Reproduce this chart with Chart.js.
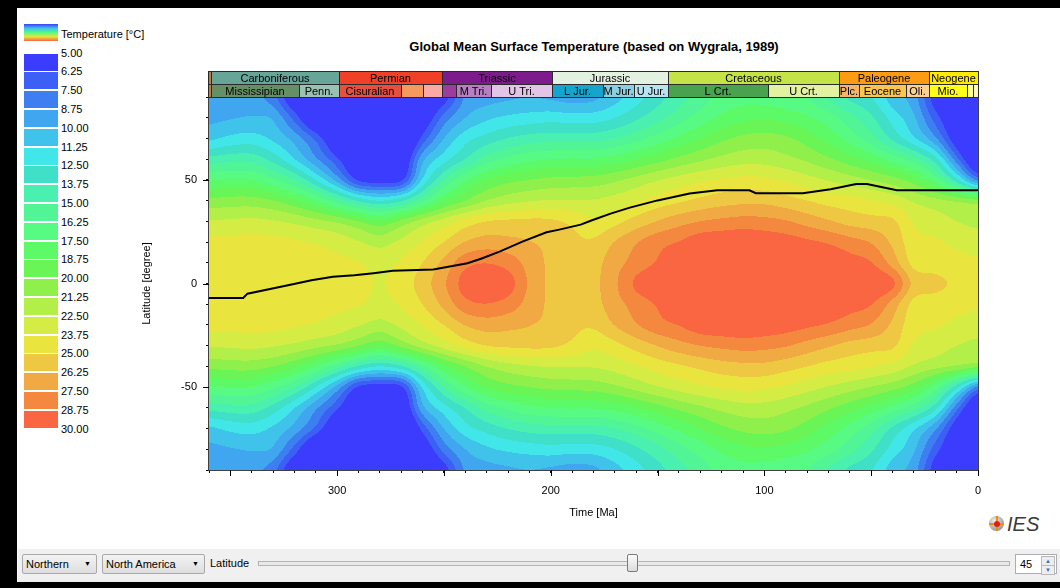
<!DOCTYPE html>
<html>
<head>
<meta charset="utf-8">
<script src="https://cdn.jsdelivr.net/npm/chart.js@4.4.1/dist/chart.umd.min.js"></script>
<style>
body { margin: 0; width: 1060px; height: 588px; overflow: hidden; background: #fff; position: relative;
       font-family: 'Liberation Sans', Arial, sans-serif; font-size: 11px; color: #000; }
.blk { position: absolute; background: #000; }
#legend div { position: absolute; }
.sw { left: 24px; width: 34px; height: 17px; }
.lb { left: 61px; height: 14px; line-height: 14px; }
#bar { position: absolute; left: 18px; top: 549px; width: 1042px; height: 33px; background: #f0f0f0; }
.combo { position: absolute; top: 554px; height: 20px; box-sizing: border-box; border: 1px solid #a9a9a9; border-radius: 2px;
         background: linear-gradient(#f3f3f3, #dedede); line-height: 18px; padding-left: 3px; }
.combo span { position: absolute; right: 5px; top: 0; font-size: 7px; }
#track { position: absolute; left: 258px; top: 561px; width: 750px; height: 3px; border: 1px solid #b5b5b5; background: #e9e9e9; }
#thumb { position: absolute; left: 627px; top: 554px; width: 11px; height: 18px; box-sizing: border-box; border: 1px solid #7a7a7a;
         border-radius: 2px; background: linear-gradient(#fafafa, #dcdcdc); }
#spin { position: absolute; left: 1015px; top: 554px; width: 42px; height: 20px; box-sizing: border-box; border: 1px solid #abadb3;
        background: #fff; line-height: 18px; padding-left: 4px; }
#spin i { position: absolute; right: 1px; width: 12px; height: 8px; border: 1px solid #b9b9b9; background: #eceef2;
          font-size: 6px; line-height: 8px; text-align: center; font-style: normal; color: #4a6da8; }
#logo { position: absolute; left: 988px; top: 512px; width: 60px; height: 24px; }
#globe { position: absolute; left: 1px; top: 4px; width: 15px; height: 15px; border-radius: 50%;
         background: radial-gradient(circle at 40% 35%, #f4f4f4, #9a9a9a 70%, #6f6f6f); }
#gh { position: absolute; left: 1px; top: 11px; width: 15px; height: 2px; background: #f08a10; }
#gv { position: absolute; left: 8px; top: 4px; width: 2px; height: 15px; background: #f08a10; }
#gc { position: absolute; left: 6px; top: 9px; width: 6px; height: 6px; border-radius: 50%; background: #e02010; }
#ies { position: absolute; left: 19px; top: 0; font-size: 20px; font-style: italic; color: #3a3a3a; line-height: 24px; }
#title { position: absolute; left: 209px; width: 770px; top: 39px; text-align: center; font-weight: bold; font-size: 13px; }
#grafica { position: absolute; left: 0; top: 0; }
</style>
</head>
<body>
<div class="blk" style="left:0;top:0;width:1060px;height:8px"></div>
<div class="blk" style="left:0;top:0;width:17px;height:588px"></div>
<div class="blk" style="left:0;top:582px;width:1060px;height:6px"></div>
<div id="legend"></div>
<div id="title">Global Mean Surface Temperature (based on Wygrala, 1989)</div>
<div id="bar"></div>
<div class="combo" style="left:22px;width:75px">Northern<span>&#9660;</span></div>
<div class="combo" style="left:102px;width:103px">North America<span>&#9660;</span></div>
<div style="position:absolute;left:210px;top:557px">Latitude</div>
<div id="track"></div>
<div id="thumb"></div>
<div id="spin">45<i style="top:1px">&#9650;</i><i style="top:10px">&#9660;</i></div>
<div id="logo"><div id="globe"></div><div id="gh"></div><div id="gv"></div><div id="gc"></div><div id="ies">IES</div></div>
<canvas id="grafica" width="1060" height="588"></canvas>
<script>
// time axis of the temperature grid (Ma)
var ages = [360,350,340,330,320,310,300,290,280,270,260,250,240,230,220,210,200,190,180,170,160,150,140,130,120,110,100,90,80,70,60,50,40,30,20,10,0];

// surface temperature (°C) read along each latitude; the field is mirrored about the equator
var lat0  = [24.5,24.5,24.6,24.6,24.5,24.4,24.3,24.1,23.7,24.3,25.6,27.3,29.3,29.8,29.3,27.3,26.0,25.7,25.9,27.3,29.0,30.0,31.0,31.5,32.0,32.0,31.7,31.2,30.8,30.5,30.3,30.0,29.0,25.9,25.4,24.7,24.4];
var lat10 = [24.4,24.4,24.5,24.5,24.4,24.2,24.0,23.8,23.3,23.9,25.0,26.6,28.3,28.7,28.2,27.0,26.0,25.6,25.8,27.0,28.0,28.9,29.8,30.8,31.2,31.3,31.0,30.6,30.2,29.8,29.3,28.8,27.0,24.6,24.3,24.1,23.9];
var lat20 = [24.1,24.1,24.2,24.1,23.9,23.6,23.2,22.6,22.0,22.8,23.8,25.0,26.3,26.8,26.6,26.3,25.9,25.3,25.2,26.3,27.4,28.3,28.8,29.6,29.8,29.9,29.7,29.4,29.0,28.6,28.0,27.4,26.0,24.2,23.9,23.5,23.2];
var lat30 = [22.6,22.7,22.8,22.6,22.2,21.6,21.0,20.0,19.0,20.3,21.8,23.0,24.2,25.0,25.2,25.3,25.2,24.7,24.0,24.6,25.5,26.3,27.0,27.5,27.8,28.0,27.9,27.6,27.0,26.4,25.8,25.5,25.2,23.6,23.0,22.5,22.0];
var lat40 = [20.3,20.5,20.5,20.0,19.0,17.5,15.5,13.5,12.5,13.5,16.0,18.5,20.0,21.3,22.0,22.4,22.6,22.6,22.6,23.0,23.6,24.3,24.8,25.3,25.7,25.9,25.9,25.5,25.0,24.5,24.2,23.8,23.3,22.3,21.6,21.0,20.3];
var lat50 = [17.4,17.6,17.5,16.5,15.0,12.5,9.5,6.0,5.5,6.0,11.5,15.0,17.3,18.8,19.6,20.0,20.3,20.4,20.5,21.0,21.7,22.4,23.0,23.5,23.9,24.1,24.0,23.6,23.0,22.4,21.8,21.2,20.5,19.3,17.0,13.0,8.4];
var lat60 = [14.2,14.5,14.5,13.3,11.3,9.0,6.5,3.5,2.5,4.0,9.6,12.0,13.8,15.6,16.5,17.2,17.5,17.6,17.6,18.0,18.7,19.5,20.3,21.0,21.6,22.0,22.0,21.6,21.0,20.2,19.3,18.3,17.0,15.5,13.0,8.0,3.5];
var lat70 = [11.0,11.6,11.8,11.0,9.5,7.2,4.0,2.5,2.0,2.5,6.7,10.0,12.0,13.0,13.8,14.3,14.5,14.5,14.5,15.0,15.8,16.8,17.8,18.8,19.7,20.3,20.5,20.2,19.4,18.3,17.0,15.5,13.5,11.5,9.0,5.0,2.5];
var lat80 = [9.7,9.9,10.1,9.8,7.0,3.5,2.5,2.0,1.5,2.0,4.5,8.0,10.0,11.0,11.5,11.8,12.0,11.8,11.9,12.5,13.5,14.6,15.7,16.8,17.8,18.4,18.6,18.3,17.7,16.8,15.5,14.0,12.0,10.2,6.9,4.0,2.0];
var lat90 = [9.3,9.4,9.1,8.0,4.5,3.0,2.0,1.5,1.0,1.5,3.0,5.5,8.9,9.5,9.8,10.0,9.8,9.5,9.7,10.8,12.0,13.3,14.5,15.7,16.6,17.1,17.0,16.6,16.2,14.8,13.5,12.6,10.6,9.3,5.4,3.0,2.0];
var latRows = [lat0, lat10, lat20, lat30, lat40, lat50, lat60, lat70, lat80, lat90];

// contour levels and their colours
var levels = [5.00,6.25,7.50,8.75,10.00,11.25,12.50,13.75,15.00,16.25,17.50,18.75,20.00,21.25,22.50,23.75,25.00,26.25,27.50,28.75,30.00];
var bandColors = ['#3c3cff','#3c5ff5','#3d7ff0','#3fa6ef','#3fc3ea','#40e6e8','#40e0c8','#4af0b0','#52f595','#57fa83',
                  '#5dfa68','#68f555','#8ff04c','#b2ef48','#d5ec44','#e9e43e','#eec843','#f1aa43','#f5883f','#f96641'];

// paleo-latitude of the selected point (North America, 45°N)
var pathAges = [360,344,342,323,312,302,292,283,274,255,239,232,224,213,202,196,186,181,172,163,150,135,122,107,104,82,69,57,52,38,0];
var pathLats = [-7.0,-7.0,-4.9,-0.8,1.6,3.2,4.0,5.0,6.1,6.8,9.8,12.2,15.4,20.3,24.7,26.0,28.4,30.4,33.7,36.6,40.1,43.4,45.0,45.0,43.6,43.6,45.5,48.0,48.0,45.0,45.0];

// geologic time scale
var periodNames  = ['', 'Carboniferous', 'Permian', 'Triassic', 'Jurassic', 'Cretaceous', 'Paleogene', 'Neogene'];
var periodStart  = [360.5, 359, 299, 251, 199.5, 145, 65, 23];
var periodEnd    = [359, 299, 251, 199.5, 145, 65, 23, 0];
var periodColors = ['#c07a3a','#67a599','#f04028','#7d1a8c','#e3f2e0','#c4e346','#fd9b12','#ffec00'];
var epochNames  = ['', 'Mississipian', 'Penn.', 'Cisuralian', '', '', '', 'M Tri.', 'U Tri.', 'L Jur.', 'M Jur.', 'U Jur.', 'L Crt.', 'U Crt.', 'Plc.', 'Eocene', 'Oli.', 'Mio.', '', ''];
var epochStart  = [360.5, 359, 318, 299, 270, 260, 251, 244.5, 228, 199.5, 175.5, 161, 145, 98.5, 65, 55.5, 33.8, 23, 5, 2.3];
var epochEnd    = [359, 318, 299, 270, 260, 251, 244.5, 228, 199.5, 175.5, 161, 145, 98.5, 65, 55.5, 33.8, 23, 5, 2.3, 0];
var epochColors = ['#c07a3a','#678f66','#99c2b5','#e5503f','#f59a5c','#fba9a4','#9a3d9e','#b77fc2','#e2c4e6','#15a5cc',
                   '#8ccfe0','#b8e2ee','#48a24e','#e2f2a0','#f6b468','#fbc554','#fcd08e','#ffff1a','#ffff99','#fff6c8'];

// legend on the left
var leg = document.getElementById('legend');
var html = '<div class="sw" style="top:24px;background:linear-gradient(#3c3cff,#3fc3ea,#57fa83,#e9e43e,#f96641)"></div>' +
           '<div class="lb" style="top:27px">Temperature [°C]</div>';
for (var k = 0; k < levels.length; k++) {
    html += '<div class="lb" style="top:' + (45.5 + 18.8 * k) + 'px">' + levels[k].toFixed(2) + '</div>';
    if (k < bandColors.length)
        html += '<div class="sw" style="top:' + (53.5 + 18.8 * k) + 'px;background:' + bandColors[k] + '"></div>';
}
leg.innerHTML = html;

function cr(p0, p1, p2, p3, t) {
    return 0.5 * (2 * p1 + (p2 - p0) * t + (2 * p0 - 5 * p1 + 4 * p2 - p3) * t * t + (3 * p1 - p0 - 3 * p2 + p3) * t * t * t);
}
function clampI(i, a, b) { return i < a ? a : (i > b ? b : i); }
function rgbOf(h) { return [parseInt(h.substr(1, 2), 16), parseInt(h.substr(3, 2), 16), parseInt(h.substr(5, 2), 16)]; }

var heatmap = {
    id: 'heatmap',
    beforeDatasetsDraw: function(chart) {
        var a = chart.chartArea, xs = chart.scales.x, ys = chart.scales.y;
        var w = Math.round(a.right - a.left), h = Math.round(a.bottom - a.top);
        var img = chart.ctx.createImageData(w, h);
        var rgb = bandColors.map(rgbOf);
        var nT = ages.length - 1, step = ages[0] - ages[1];
        var nLat = latRows.length - 1;          // 0..90 -> rows -90..90
        var nRow = 2 * nLat;
        var vs = [];
        for (var py = 0; py < h; py++) vs.push((ys.getValueForPixel(a.top + py + 0.5) + 90) / 10);
        for (var px = 0; px < w; px++) {
            var u = (ages[0] - xs.getValueForPixel(a.left + px + 0.5)) / step;
            var j = Math.floor(u), fu = u - j;
            var col = [];
            for (var i = 0; i <= nRow; i++) {
                var r = latRows[Math.abs(i - nLat)];
                col.push(cr(r[clampI(j - 1, 0, nT)], r[clampI(j, 0, nT)], r[clampI(j + 1, 0, nT)], r[clampI(j + 2, 0, nT)], fu));
            }
            for (var py2 = 0; py2 < h; py2++) {
                var v = vs[py2], ii = Math.floor(v), fv = v - ii;
                var T = cr(col[clampI(ii - 1, 0, nRow)], col[clampI(ii, 0, nRow)], col[clampI(ii + 1, 0, nRow)], col[clampI(ii + 2, 0, nRow)], fv);
                var b = clampI(Math.floor((T - levels[0]) / (levels[1] - levels[0])), 0, bandColors.length - 1);
                var o = (py2 * w + px) * 4;
                img.data[o] = rgb[b][0]; img.data[o + 1] = rgb[b][1]; img.data[o + 2] = rgb[b][2]; img.data[o + 3] = 255;
            }
        }
        chart.ctx.putImageData(img, Math.round(a.left), Math.round(a.top));
    },
    afterDatasetsDraw: function(chart) {
        var c = chart.ctx, a = chart.chartArea, xs = chart.scales.x, ys = chart.scales.y;
        c.save();
        c.strokeStyle = '#404040'; c.lineWidth = 1;
        c.strokeRect(a.left - 0.5, a.top - 0.5, a.right - a.left + 1, a.bottom - a.top + 1);
        // longer ticks every 50
        c.strokeStyle = '#000';
        c.beginPath();
        for (var t = 0; t <= 350; t += 50) {
            var x = Math.round(xs.getPixelForValue(t)) + 0.5;
            c.moveTo(x, a.bottom); c.lineTo(x, a.bottom + 6);
        }
        for (var l = -50; l <= 50; l += 50) {
            var y = Math.round(ys.getPixelForValue(l)) + 0.5;
            c.moveTo(a.left, y); c.lineTo(a.left - 6, y);
        }
        c.stroke();
        c.restore();
    },
    afterDraw: function(chart) {
        var c = chart.ctx, xs = chart.scales.x;
        c.save();
        c.font = '11px "Liberation Sans", Arial, sans-serif';
        c.textAlign = 'center'; c.textBaseline = 'middle';
        drawRow(c, xs, periodNames, periodStart, periodEnd, periodColors, 71, 13);
        drawRow(c, xs, epochNames, epochStart, epochEnd, epochColors, 84, 13);
        c.restore();
    }
};

function drawRow(c, xs, names, starts, ends, colors, y0, h) {
    for (var i = 0; i < names.length; i++) {
        var x0 = Math.round(xs.getPixelForValue(starts[i])), x1 = Math.round(xs.getPixelForValue(ends[i]));
        c.fillStyle = colors[i];
        c.fillRect(x0, y0, x1 - x0, h);
        c.strokeStyle = '#2a2a2a'; c.lineWidth = 1;
        c.strokeRect(x0 + 0.5, y0 + 0.5, x1 - x0, h);
        if (names[i]) {
            c.fillStyle = '#000';
            c.fillText(names[i], (x0 + x1) / 2, y0 + h / 2 + 1);
        }
    }
}

Chart.defaults.font.family = "'Liberation Sans', Arial, sans-serif";
Chart.defaults.font.size = 11;
Chart.defaults.color = '#000';

var ctx = document.getElementById('grafica').getContext('2d');
var myChart = new Chart(ctx, {
    type: 'line',
    data: {
        datasets: [{
            label: 'Latitude',
            data: pathAges.map(function(t, i) { return {x: t, y: pathLats[i]}; }),
            borderColor: '#000',
            borderWidth: 2,
            pointRadius: 0,
            tension: 0
        }]
    },
    options: {
        responsive: false,
        animation: false,
        layout: { padding: { left: 130, right: 82, top: 97, bottom: 68 } },
        plugins: { legend: { display: false }, tooltip: { enabled: false } },
        scales: {
            x: {
                type: 'linear', reverse: true, min: 0, max: 360,
                afterFit: function(s) { s.height = 50; },
                ticks: { stepSize: 10, autoSkip: false, maxRotation: 0, padding: 11,
                         callback: function(v) { return v % 100 === 0 ? String(v) : ''; } },
                grid: { drawOnChartArea: false, tickLength: 3, color: '#000' },
                border: { color: '#404040' },
                title: { display: true, text: 'Time [Ma]', padding: { top: 0, bottom: 0 } }
            },
            y: {
                type: 'linear', min: -90, max: 90,
                afterFit: function(s) { s.width = 79; },
                ticks: { stepSize: 10, autoSkip: false, padding: 9,
                         callback: function(v) { return (v % 50 === 0 && Math.abs(v) < 90) ? String(v) : ''; } },
                grid: { drawOnChartArea: false, tickLength: 3, color: '#000' },
                border: { color: '#404040' },
                title: { display: true, text: 'Latitude [degree]', padding: { top: 10, bottom: 0 } }
            }
        }
    },
    plugins: [heatmap]
});
</script>
</body>
</html>
